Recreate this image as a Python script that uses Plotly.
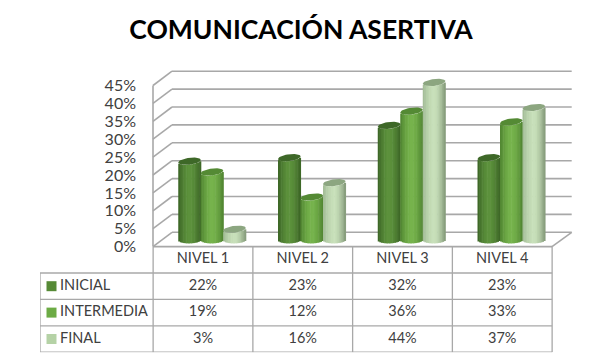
import plotly.graph_objects as go
import math

TITLE = "COMUNICACIÓN ASERTIVA"
categories = ["NIVEL 1", "NIVEL 2", "NIVEL 3", "NIVEL 4"]
series_names = ["INICIAL", "INTERMEDIA", "FINAL"]
inicial = [22, 23, 32, 23]
intermedia = [19, 12, 36, 33]
final = [3, 16, 44, 37]
tick_values = [0, 5, 10, 15, 20, 25, 30, 35, 40, 45]

series = [inicial, intermedia, final]
# edge-left, centre, edge-right, top cap, swatch
palette = [
    ((58, 98, 36), (92, 146, 60), (58, 98, 36), (62, 104, 40), "#568a36"),
    ((78, 130, 48), (118, 180, 76), (78, 130, 48), (84, 138, 52), "#6cab45"),
    ((160, 185, 148), (200, 224, 186), (128, 150, 118), (140, 166, 128), "#b5d2a6"),
]

W, H = 602, 359
PX_PER_PCT = 3.58
PLANE_Y = 240.0       # pixel row of 0 % in the plane of the bars
CAT_PX = 99.75
CAT0_PX = 212.0       # pixel column of the first group centre
FRONT_L, BACK_L, FRONT_R, BACK_R = 153.0, 172.0, 552.0, 571.7
FRONT_Y0, BACK_Y0 = 246.6, 232.3
PLOT_L, PLOT_R, PLOT_T, PLOT_B = 150.0, 575.0, 68.0, 250.0

def xd(px):
    return (px - CAT0_PX) / CAT_PX
def yd(py):
    return (PLANE_Y - py) / PX_PER_PCT

BAR_PX = 22.5
N_STRIPS = 14
bw = BAR_PX / CAT_PX
CAP_E = 3.4 / PX_PER_PCT
TILT = 1.3 / PX_PER_PCT

def mix(a, b, f):
    return tuple(round(a[i] + (b[i] - a[i]) * f) for i in range(3))

fig = go.Figure()

# cylinders: each is a row of narrow vertical strips
for s, vals in enumerate(series):
    left, mid, right, cap, swatch = palette[s]
    for k in range(N_STRIPS):
        t = -1 + (2 * k + 1) / N_STRIPS
        arc = math.sqrt(max(0, 1 - t * t))
        f = abs(t) ** 1.7
        col = mix(mid, left if t < 0 else right, f)
        bases = [-CAP_E * arc + TILT * 0.2 * t] * 4
        tops = [v + TILT * t - CAP_E * arc for v in vals]
        fig.add_trace(go.Bar(
            x=list(range(4)),
            y=[tp - b for tp, b in zip(tops, bases)],
            base=bases,
            width=bw / N_STRIPS * 1.35,
            offset=(s - 1.5) * bw + (k / N_STRIPS) * bw,
            marker=dict(color="rgb(%d,%d,%d)" % col, line=dict(width=0)),
            showlegend=False, hoverinfo="skip",
        ))
    # top caps
    for i, v in enumerate(vals):
        cx = i + (s - 1) * bw
        th = [j * 2 * math.pi / 40 for j in range(41)]
        fig.add_trace(go.Scatter(
            x=[cx + bw / 2 * math.cos(a) for a in th],
            y=[v + CAP_E * math.sin(a) + TILT * math.cos(a) for a in th],
            mode="lines", fill="toself", line=dict(width=0),
            fillcolor="rgb(%d,%d,%d)" % cap,
            showlegend=False, hoverinfo="skip",
        ))

# walls, floor, gridlines
GRID = dict(color="#a8a8a8", width=1.6)
shapes = []
def seg(x0, y0, x1, y1):
    shapes.append(dict(type="line", xref="x", yref="y", layer="below",
                       x0=xd(x0), y0=yd(y0), x1=xd(x1), y1=yd(y1), line=GRID))
for tv in tick_values:
    by = BACK_Y0 - tv * PX_PER_PCT * 1.0
    fy = FRONT_Y0 - tv * PX_PER_PCT
    seg(BACK_L, by, BACK_R, by)
    seg(FRONT_L, fy, BACK_L, by)
seg(FRONT_L, FRONT_Y0, FRONT_R, FRONT_Y0)
seg(FRONT_R, FRONT_Y0, BACK_R, BACK_Y0)
seg(FRONT_L, FRONT_Y0, FRONT_L, FRONT_Y0 - tick_values[-1] * PX_PER_PCT)

# data table on its own axes
ROW_T, ROW_H = 246.6, 26.4
TBL_L = 40.0
def txd(px):
    return (px - 203.0) / CAT_PX
tx_lines, ty_lines = [], []
for c in range(5):
    tx_lines += [c - 0.5, c - 0.5, None]
    ty_lines += [-0.5, 3.5, None]
tx_lines += [txd(TBL_L), txd(TBL_L), None]
ty_lines += [0.5, 3.5, None]
for r in range(1, 5):
    tx_lines += [txd(TBL_L), 3.5, None]
    ty_lines += [r - 0.5, r - 0.5, None]
fig.add_trace(go.Scatter(x=tx_lines, y=ty_lines, xaxis="x2", yaxis="y2", mode="lines",
                         line=dict(color="#a8a8a8", width=1.3), cliponaxis=False,
                         showlegend=False, hoverinfo="skip"))
TXT = dict(family="Lato, sans-serif", size=14.5, color="#404040")
fig.add_trace(go.Scatter(x=list(range(4)), y=[0] * 4, text=categories, xaxis="x2", yaxis="y2",
                         mode="text", textfont=TXT, cliponaxis=False, showlegend=False, hoverinfo="skip"))
for s, vals in enumerate(series):
    fig.add_trace(go.Scatter(x=list(range(4)), y=[s + 1] * 4, text=[f"{v}%" for v in vals],
                             xaxis="x2", yaxis="y2", mode="text", textfont=TXT, cliponaxis=False,
                             showlegend=False, hoverinfo="skip"))
    fig.add_trace(go.Scatter(x=[txd(51.5)], y=[s + 1], xaxis="x2", yaxis="y2", mode="markers",
                             marker=dict(symbol="square", size=10, color=palette[s][4]),
                             cliponaxis=False, showlegend=False, hoverinfo="skip"))
    fig.add_trace(go.Scatter(x=[txd(60)], y=[s + 1], text=[series_names[s]], xaxis="x2", yaxis="y2",
                             mode="text", textposition="middle right", textfont=TXT, cliponaxis=False,
                             showlegend=False, hoverinfo="skip"))

fig.update_layout(
    width=W, height=H, autosize=False,
    margin=dict(l=0, r=0, t=0, b=0),
    paper_bgcolor="white", plot_bgcolor="rgba(0,0,0,0)",
    barmode="overlay", shapes=shapes, showlegend=False,
    title=dict(text="<b>%s</b>" % TITLE, x=0.5, xanchor="center", y=1 - 30 / H, yanchor="middle",
               font=dict(family="Lato, sans-serif", size=26.5, color="black")),
    xaxis=dict(domain=[PLOT_L / W, PLOT_R / W], range=[xd(PLOT_L), xd(PLOT_R)], visible=False, fixedrange=True, automargin=False),
    yaxis=dict(domain=[1 - PLOT_B / H, 1 - PLOT_T / H], range=[yd(PLOT_B), yd(PLOT_T)],
               tickmode="array",
               tickvals=[yd(FRONT_Y0 - t * PX_PER_PCT) for t in tick_values],
               ticktext=[f"{t}%" for t in tick_values],
               showgrid=False, zeroline=False, showline=False, ticks="",
               ticklabelstandoff=13, anchor="x", automargin=False,
               tickfont=dict(family="Lato, sans-serif", size=16, color="#404040"), fixedrange=True),
    xaxis2=dict(domain=[TBL_L / W, (552.0 + 1) / W], range=[txd(TBL_L), txd(553.0)], visible=False, fixedrange=True, anchor="y2", automargin=False),
    yaxis2=dict(domain=[1 - (ROW_T + 4 * ROW_H) / H, 1 - ROW_T / H], range=[3.5, -0.5], visible=False, fixedrange=True, anchor="x2", automargin=False),
)
fig.write_html("out.html", default_width="602px", default_height="359px",
               config=dict(displayModeBar=False, responsive=False),
               post_script="document.body.style.margin='0';")
